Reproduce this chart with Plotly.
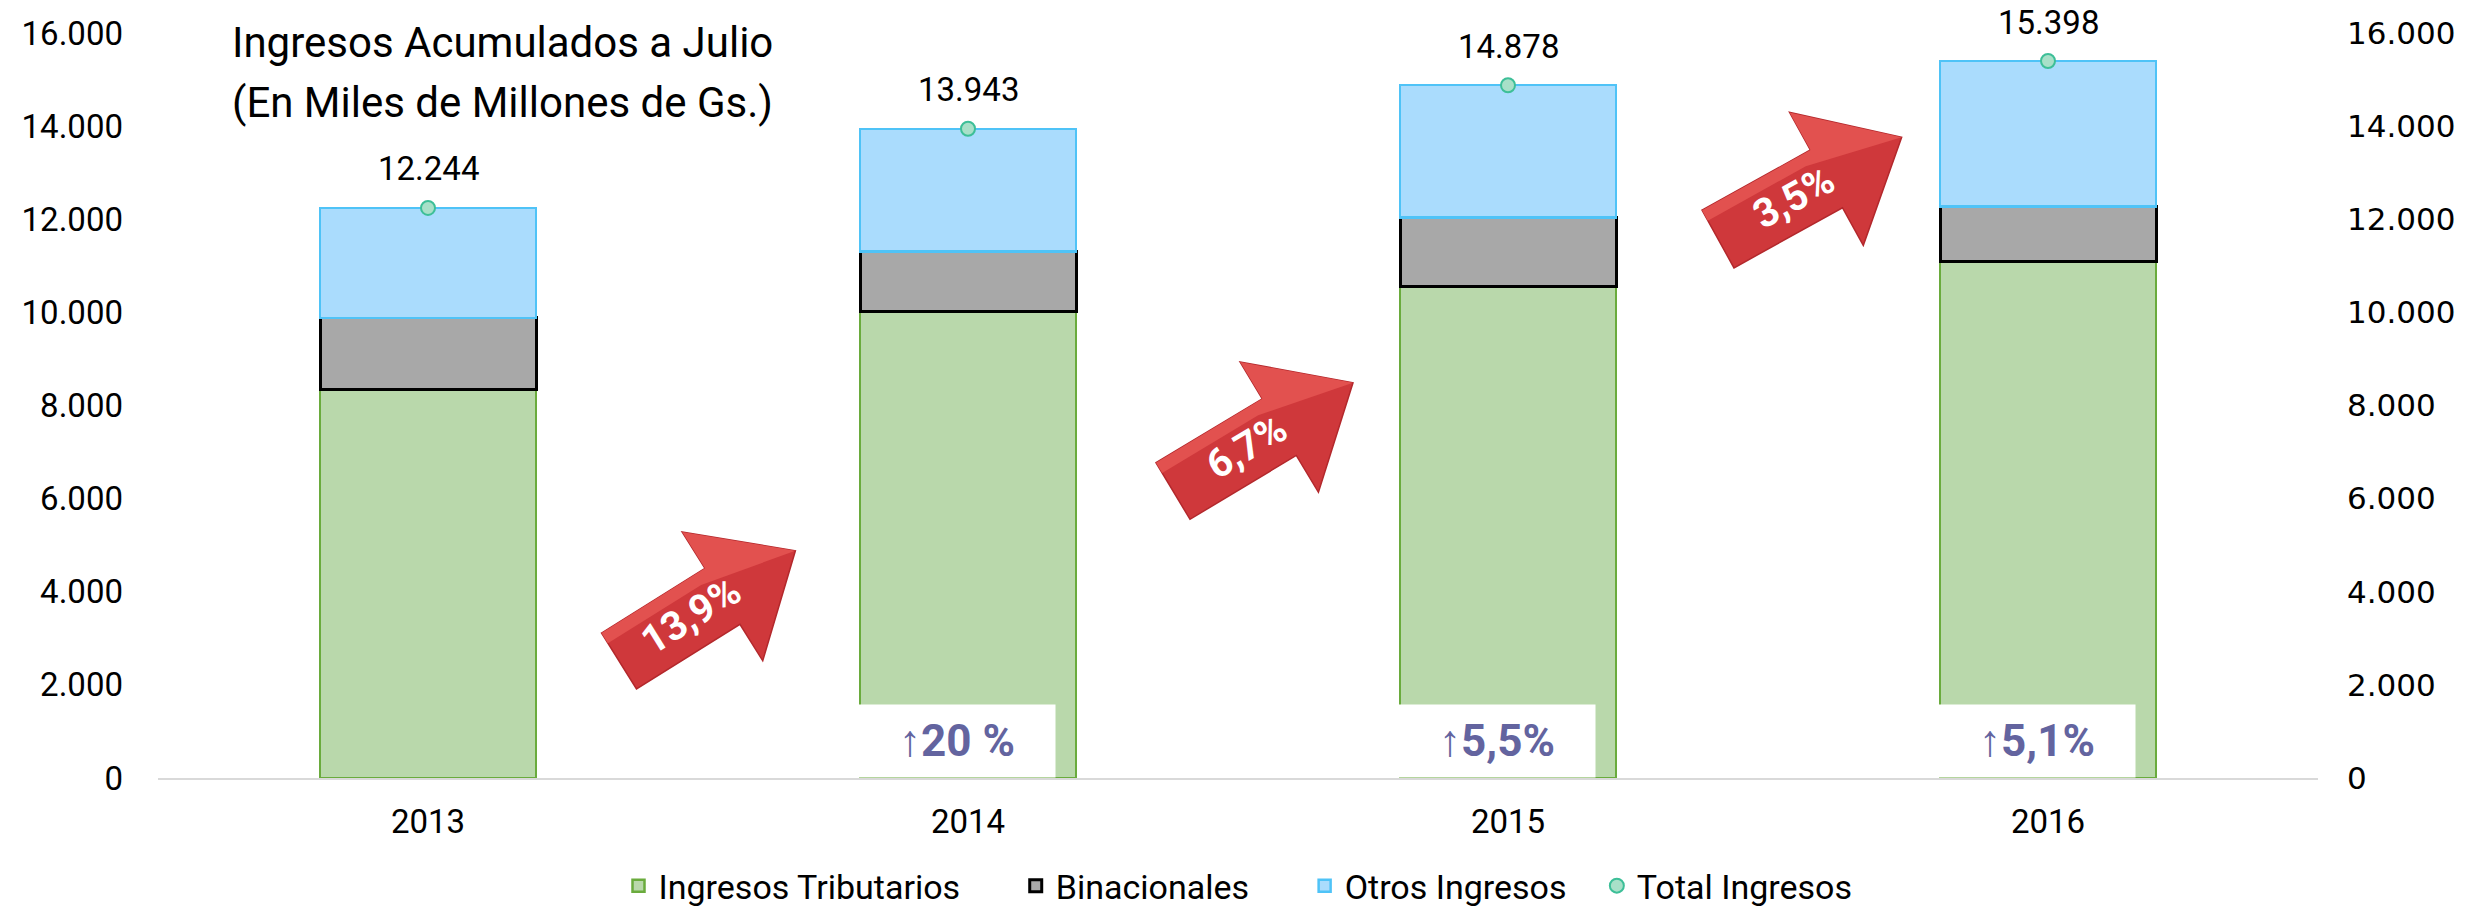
import math
import plotly.graph_objects as go

# ---------------- data ----------------
years = ["2013", "2014", "2015", "2016"]
tributarios = [8340, 10010, 10560, 11100]
binacionales = [1540, 1300, 1480, 1175]
otros = [2364, 2633, 2838, 3123]
total = [12244, 13943, 14878, 15398]
growth_total_labels = ["13,9%", "6,7%", "3,5%"]
growth_trib_labels = ["\u219120 %", "\u21915,5%", "\u21915,1%"]
y_ticks = [0, 2000, 4000, 6000, 8000, 10000, 12000, 14000, 16000]
y_tick_text = ["0", "2.000", "4.000", "6.000", "8.000", "10.000", "12.000", "14.000", "16.000"]
legend_names = ["Ingresos Tributarios", "Binacionales", "Otros Ingresos", "Total Ingresos"]

W, H = 2473, 906
ML, MR, MT, MB = 150, 163, 25, 136
PW, PH = W - ML - MR, H - MT - MB

FONT = "Roboto, sans-serif"
PAD = "\u00a0" * 6
xs = list(range(len(years)))

fig = go.Figure()
fig.add_trace(go.Bar(
    x=xs, y=tributarios, name=legend_names[0] + PAD, width=0.4,
    marker=dict(color="#b9d8ab", line=dict(color="#6aab3d", width=2.5)),
))
fig.add_trace(go.Bar(
    x=xs, y=binacionales, name=legend_names[1] + PAD, width=0.4,
    marker=dict(color="#a8a8a8", line=dict(color="#000000", width=3)),
))
fig.add_trace(go.Bar(
    x=xs, y=otros, name=legend_names[2] + "\u00a0" * 3, width=0.4,
    marker=dict(color="#aadcfd", line=dict(color="#4fc3f7", width=2.5)),
))
fig.add_trace(go.Scatter(
    x=xs, y=total, name=legend_names[3], mode="markers",
    marker=dict(size=14, color="#a8e0c8", line=dict(color="#3dbf98", width=2)),
    yaxis="y2",
))

# total value labels above the markers
for i, v in zip(xs, total):
    fig.add_annotation(x=i, y=v, xref="x", yref="y", yshift=39, yanchor="middle",
                       text=f"{v:,}".replace(",", "."), showarrow=False,
                       font=dict(family=FONT, size=33, color="#000000"))


def px_to_paper(px, py):
    return (px - ML) / PW, (H - MB - py) / PH


# -------- red growth arrows (decorations, pixel geometry) --------
arrows = [
    # tail centre x, tail centre y (pixels), angle (deg), length
    (611, 653, 32, 208),
    (1165, 483, 31, 210),
    (1710, 231, 29, 210),
]
for (tx, ty, ang, L), lab in zip(arrows, growth_total_labels):
    a = math.radians(ang)
    ux, uy = math.cos(a), -math.sin(a)
    nx, ny = math.sin(a), math.cos(a)  # perpendicular (down-right on screen)
    w, h, Lh = 33, 76, 86

    def to_paper(s, t):
        return px_to_paper(tx + s * ux + t * nx, ty + s * uy + t * ny)

    pts = [to_paper(s, t) for s, t in
           [(0, -w), (L - Lh, -w), (L - Lh, -h), (L, 0), (L - Lh, h), (L - Lh, w), (0, w)]]
    path = "M " + " L ".join(f"{p[0]:.5f},{p[1]:.5f}" for p in pts) + " Z"
    fig.add_shape(type="path", path=path, xref="paper", yref="paper",
                  fillcolor="#cf383b", line=dict(color="#b3282c", width=1.5), layer="above")
    pts2 = [to_paper(s, t) for s, t in
            [(0, -w), (L - Lh, -w), (L - Lh, -h), (L, 0), (L - Lh - 12, -w + 12), (0, -w + 12)]]
    path2 = "M " + " L ".join(f"{p[0]:.5f},{p[1]:.5f}" for p in pts2) + " Z"
    fig.add_shape(type="path", path=path2, xref="paper", yref="paper",
                  fillcolor="#e2514f", line=dict(width=0), layer="above")
    pxp, pyp = to_paper(0.41 * L, 0)
    fig.add_annotation(x=pxp, y=pyp, xref="paper", yref="paper", text=f"<b>{lab}</b>",
                       showarrow=False, textangle=-ang, xanchor="center", yanchor="middle",
                       font=dict(family=FONT, size=40, color="#ffffff"))

# -------- white boxes with growth of Ingresos Tributarios --------
for i, lab in zip(xs[1:], growth_trib_labels):
    fig.add_annotation(x=i - 0.02, y=0, xref="x", yref="y", yanchor="bottom", xanchor="center",
                       text=f"<b>{lab}</b>", showarrow=False,
                       width=196, height=72, bgcolor="#ffffff", borderpad=0,
                       font=dict(family=FONT, size=44, color="#63649f"))

# -------- title (two lines) --------
for txt, ypx in [("Ingresos Acumulados a Julio", 35), ("(En Miles de Millones de Gs.)", 95)]:
    xp, yp = px_to_paper(494, ypx)
    fig.add_annotation(x=xp, y=yp, xref="paper", yref="paper", xanchor="center", yanchor="middle",
                       text=txt, showarrow=False,
                       font=dict(family=FONT, size=42, color="#000000"))

fig.update_layout(
    width=W, height=H,
    margin=dict(l=ML, r=MR, t=MT, b=MB, autoexpand=False),
    barmode="stack",
    plot_bgcolor="#ffffff", paper_bgcolor="#ffffff",
    showlegend=True,
    legend=dict(orientation="h", x=0.5, xanchor="center", y=-0.145, yanchor="middle",
                font=dict(family=FONT, size=34, color="#000000"),
                itemwidth=30, traceorder="normal"),
    xaxis=dict(range=[-0.5, 3.5], tickvals=xs, ticktext=years, showgrid=False,
               showline=True, linecolor="#d9d9d9", linewidth=2, ticks="",
               tickfont=dict(family=FONT, size=33, color="#000000"),
               ticklabelstandoff=13, zeroline=False),
    yaxis=dict(range=[0, 16000], tickvals=y_ticks, ticktext=y_tick_text, showgrid=False,
               showline=False, zeroline=False, ticks="",
               tickfont=dict(family=FONT, size=33, color="#000000"),
               ticklabelstandoff=34),
    yaxis2=dict(range=[0, 16000], tickvals=y_ticks, ticktext=y_tick_text, overlaying="y",
                side="right", showgrid=False, showline=False, zeroline=False, ticks="",
                tickfont=dict(family="DejaVu Sans", size=31, color="#000000"),
                ticklabelstandoff=28),
)

fig.write_html("out.html")
